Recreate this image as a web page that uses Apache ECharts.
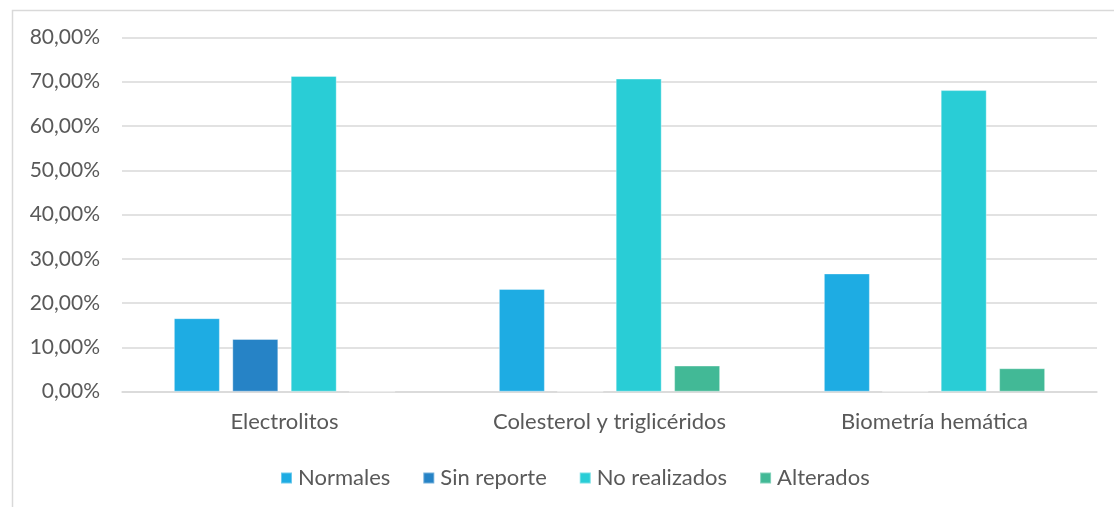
<!DOCTYPE html>
<html>
<head>
<meta charset="utf-8">
<script src="https://cdn.jsdelivr.net/npm/echarts@6/dist/echarts.min.js"></script>
<style>
html,body{margin:0;padding:0;background:#fff;}
#c{width:1114px;height:507px;}
</style>
</head>
<body>
<div id="c"></div>
<script>
const categories = ['Electrolitos', 'Colesterol y triglicéridos', 'Biometría hemática'];
const seriesNames = ['Normales', 'Sin reporte', 'No realizados', 'Alterados'];
const normales = [16.6, 23.2, 26.7];
const sinReporte = [11.9, 0, 0];
const noRealizados = [71.3, 70.7, 68.1];
const alterados = [0, 5.9, 5.3];
const yTicks = [0, 10, 20, 30, 40, 50, 60, 70, 80];

const colors = ['#1eace3', '#2683c6', '#29cdd6', '#42b996'];
const font = 'Lato, "Open Sans", sans-serif';
const values = [normales, sinReporte, noRealizados, alterados];

const chart = echarts.init(document.getElementById('c'));
chart.setOption({
  animation: false,
  color: colors,
  graphic: [{
    type: 'rect', left: 10, top: 8, silent: true,
    shape: { x: 0, y: 0, width: 1200, height: 600 },
    style: { fill: 'none', stroke: '#d9d9d9', lineWidth: 1.5 }
  }],
  grid: { left: 122, right: 17, top: 37.4, bottom: 115.3, containLabel: false },
  legend: {
    left: 275, top: 462,
    itemWidth: 11, itemHeight: 11, itemGap: 32,
    icon: 'rect',
    textStyle: { fontFamily: font, fontSize: 22, color: '#595959', padding: [0, 0, 0, 1] },
    data: seriesNames
  },
  xAxis: {
    type: 'category', data: categories,
    axisLine: { lineStyle: { color: '#d9d9d9', width: 1.5 } },
    axisTick: { show: false },
    axisLabel: { fontFamily: font, fontSize: 22, color: '#595959', margin: 19 }
  },
  yAxis: {
    type: 'value', min: yTicks[0], max: yTicks[yTicks.length - 1], interval: 10,
    axisLine: { show: false }, axisTick: { show: false },
    splitLine: { lineStyle: { color: '#d9d9d9', width: 1.5 } },
    axisLabel: {
      fontFamily: font, fontSize: 21, color: '#595959', margin: 22,
      formatter: v => v.toFixed(2).replace('.', ',') + '%'
    }
  },
  series: seriesNames.map((n, i) => ({
    name: n, type: 'bar', data: values[i],
    barWidth: 46, barGap: '27%',
    itemStyle: { color: colors[i], borderColor: 'rgba(255,255,255,0.35)', borderWidth: 1 }
  }))
});
</script>
</body>
</html>
